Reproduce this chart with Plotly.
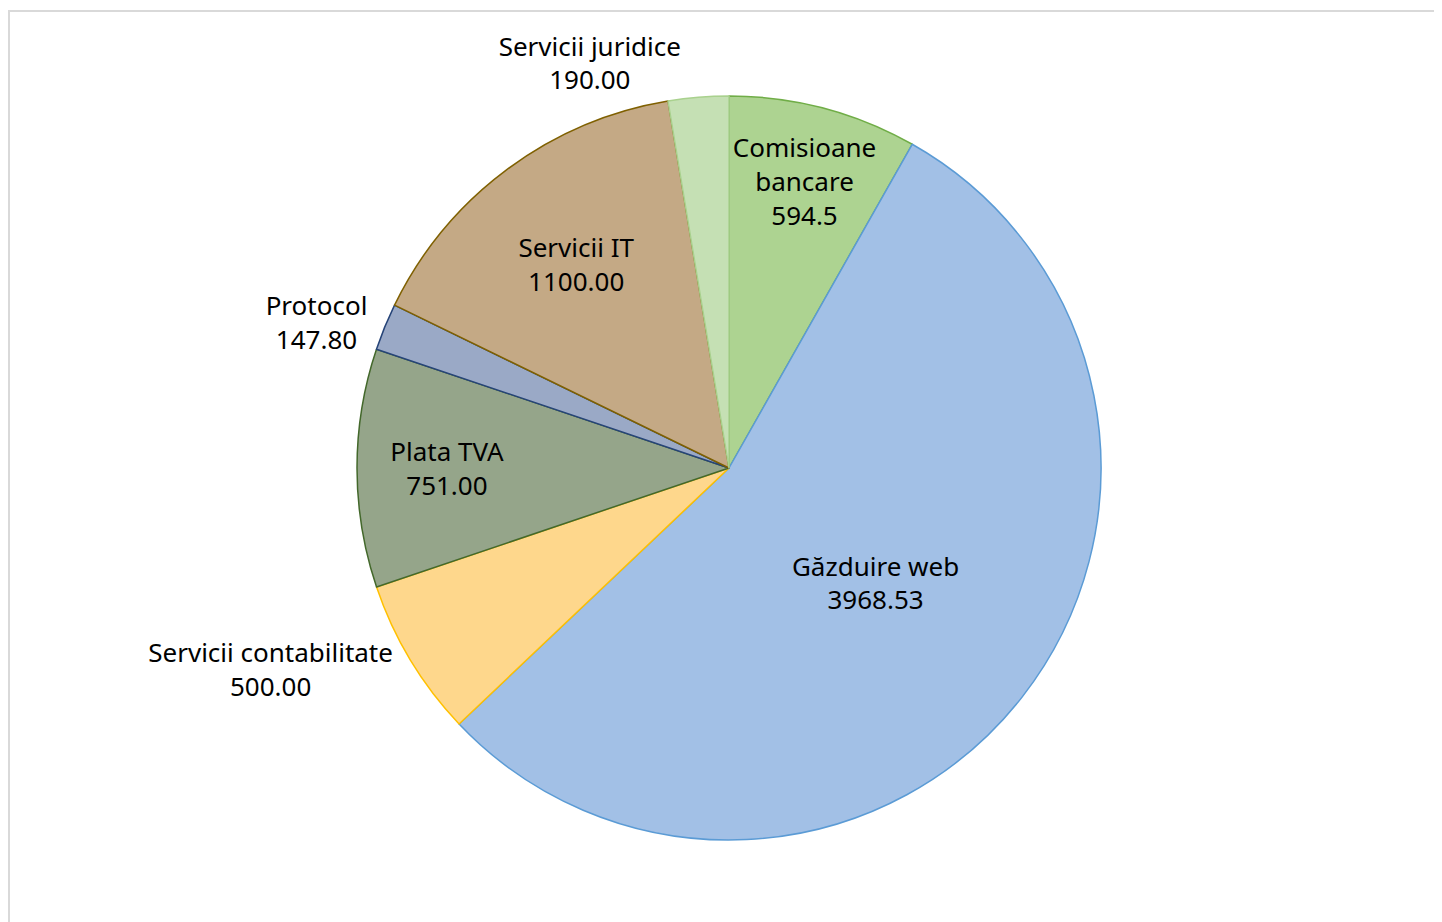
import plotly.graph_objects as go

categories = ["Comisioane bancare", "Găzduire web", "Servicii contabilitate",
              "Plata TVA", "Protocol", "Servicii IT", "Servicii juridice"]
label_lines = ["Comisioane<br>bancare", "Găzduire web", "Servicii contabilitate",
               "Plata TVA", "Protocol", "Servicii IT", "Servicii juridice"]
values = [594.5, 3968.53, 500.00, 751.00, 147.80, 1100.00, 190.00]
value_text = ["594.5", "3968.53", "500.00", "751.00", "147.80", "1100.00", "190.00"]
text_pos = ["inside", "inside", "outside", "inside", "outside", "inside", "outside"]

fill_colors = ["#add391", "#a2c0e6", "#fed78c", "#95a58a", "#9aa9c6", "#c4a985", "#c5e0b4"]
line_colors = ["#70ad47", "#5b9bd5", "#ffc000", "#43682b", "#264478", "#7f6000", "#a9d18e"]

texts = [f"{l}<br>{v}" for l, v in zip(label_lines, value_text)]

fig = go.Figure(go.Pie(
    labels=categories,
    values=values,
    text=texts,
    textinfo="text",
    textposition=text_pos,
    insidetextorientation="horizontal",
    sort=False,
    direction="clockwise",
    rotation=0,
    marker=dict(colors=fill_colors, line=dict(color=line_colors, width=1.5)),
    textfont=dict(family="Noto Sans", size=26, color="#000000"),
    hoverinfo="label+value",
    automargin=False,
))

fig.update_layout(
    width=1434, height=914,
    margin=dict(l=8, r=0, t=88, b=82),
    showlegend=False,
    paper_bgcolor="white",
    plot_bgcolor="white",
    uniformtext=dict(minsize=26, mode="show"),
    shapes=[dict(type="rect", xref="paper", yref="paper",
                 x0=-0.0049, x1=1.05, y0=-0.3, y1=1.1142,
                 line=dict(color="#d9d9d9", width=2), fillcolor="rgba(0,0,0,0)",
                 layer="below")],
)

fig.write_html("out.html")
